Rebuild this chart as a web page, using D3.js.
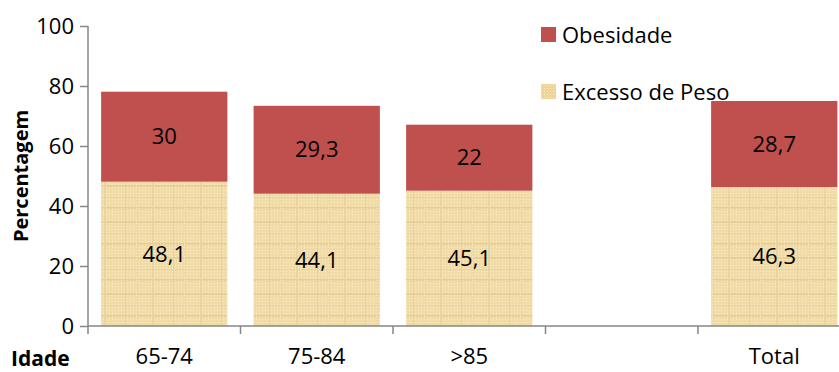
<!DOCTYPE html>
<html>
<head>
<meta charset="utf-8">
<script src="https://cdn.jsdelivr.net/npm/d3@7"></script>
<style>
  html, body { margin: 0; padding: 0; background: #fff; }
  svg { display: block; font-family: "Open Sans", sans-serif; }
</style>
</head>
<body>
<svg id="chart" width="839" height="372"></svg>
<script>
// Age groups (one empty slot separates the groups from the total)
const categories = ["65-74", "75-84", ">85", "", "Total"];
const excessoPeso = [48.1, 44.1, 45.1, null, 46.3];
const obesidade   = [30, 29.3, 22, null, 28.7];
const yTicks = [0, 20, 40, 60, 80, 100];
const seriesNames = ["Obesidade", "Excesso de Peso"];

const svg = d3.select("#chart");
const plotLeft = 88, plotTop = 26, plotH = 300, band = 152.5;
const fontSize = 22;

const x = d3.scaleBand()
  .domain(categories)
  .range([plotLeft, plotLeft + band * categories.length])
  .paddingInner(0.172)
  .paddingOuter(0.086);

const y = d3.scaleLinear().domain([0, 100]).range([plotTop + plotH, plotTop]);

// Papyrus-like texture for the "Excesso de Peso" segments
const defs = svg.append("defs");
const pat = defs.append("pattern")
  .attr("id", "papiro")
  .attr("patternUnits", "userSpaceOnUse")
  .attr("width", 48).attr("height", 36);
pat.append("rect").attr("width", 48).attr("height", 36).attr("fill", "#F1DBA6");
[[0, 5, 48, 2, "#E6CC92"], [0, 17, 48, 1, "#E9D29A"], [0, 27, 48, 2, "#E4C98E"],
 [8, 0, 2, 36, "#EAD39C"], [29, 0, 1, 36, "#E7CE96"], [40, 0, 2, 36, "#EDD7A2"]]
  .forEach(([rx, ry, w, h, c]) => pat.append("rect")
    .attr("x", rx).attr("y", ry).attr("width", w).attr("height", h)
    .attr("fill", c).attr("opacity", 0.8));
for (let i = 0; i < 48; i += 3) {
  for (let j = 0; j < 36; j += 3) {
    pat.append("rect").attr("x", i + 1).attr("y", j + 1)
      .attr("width", 1).attr("height", 1)
      .attr("fill", "#FBF0D6").attr("opacity", 0.75);
  }
}
const legPat = defs.append("pattern")
  .attr("id", "papiroLeg")
  .attr("patternUnits", "userSpaceOnUse")
  .attr("width", 3).attr("height", 3);
legPat.append("rect").attr("width", 3).attr("height", 3).attr("fill", "#EFD49A");
legPat.append("rect").attr("x", 1).attr("y", 1).attr("width", 1).attr("height", 1).attr("fill", "#FAEBC8");

const data = categories.map((c, i) => ({ c, a: excessoPeso[i], b: obesidade[i] }))
  .filter(d => d.a != null);

const g = svg.append("g");
// Lower segment: Excesso de Peso
g.selectAll("rect.peso").data(data).join("rect")
  .attr("class", "peso")
  .attr("x", d => x(d.c)).attr("width", x.bandwidth())
  .attr("y", d => y(d.a)).attr("height", d => y(0) - y(d.a))
  .attr("fill", "url(#papiro)");
// Upper segment: Obesidade
g.selectAll("rect.obes").data(data).join("rect")
  .attr("class", "obes")
  .attr("x", d => x(d.c)).attr("width", x.bandwidth())
  .attr("y", d => y(d.a + d.b)).attr("height", d => y(d.a) - y(d.a + d.b))
  .attr("fill", "#C0504D");

const fmt = v => String(v).replace(".", ",");
g.selectAll("text.lpeso").data(data).join("text")
  .attr("x", d => x(d.c) + x.bandwidth() / 2)
  .attr("y", d => y(d.a / 2))
  .attr("dy", "0.35em").attr("text-anchor", "middle")
  .attr("font-size", fontSize).attr("fill", "#000")
  .text(d => fmt(d.a));
g.selectAll("text.lobes").data(data).join("text")
  .attr("x", d => x(d.c) + x.bandwidth() / 2)
  .attr("y", d => y(d.a + d.b / 2))
  .attr("dy", "0.35em").attr("text-anchor", "middle")
  .attr("font-size", fontSize).attr("fill", "#000")
  .text(d => fmt(d.b));

// Y axis
const yAxis = svg.append("g")
  .attr("transform", `translate(${plotLeft},0)`)
  .call(d3.axisLeft(y).tickValues(yTicks).tickSize(8).tickPadding(6));
yAxis.select(".domain").attr("stroke", "#868686").attr("stroke-width", 1.5)
  .attr("d", `M0,${plotTop}V${plotTop + plotH}`);
yAxis.selectAll(".tick line").attr("stroke", "#868686").attr("stroke-width", 1.5);
yAxis.selectAll(".tick text").attr("font-size", fontSize).attr("fill", "#000")
  .attr("font-family", "'Open Sans', sans-serif");

// X axis (category boundaries as tick marks)
const xAxisG = svg.append("g");
xAxisG.append("line")
  .attr("x1", plotLeft).attr("x2", 839)
  .attr("y1", y(0)).attr("y2", y(0))
  .attr("stroke", "#868686").attr("stroke-width", 1.5);
const bounds = d3.range(categories.length).map(i => plotLeft + i * band);
xAxisG.selectAll("line.tk").data(bounds).join("line")
  .attr("class", "tk")
  .attr("x1", d => d).attr("x2", d => d)
  .attr("y1", y(0)).attr("y2", y(0) + 8)
  .attr("stroke", "#868686").attr("stroke-width", 1.5);
xAxisG.selectAll("text.cat").data(categories.filter(c => c)).join("text")
  .attr("class", "cat")
  .attr("x", d => x(d) + x.bandwidth() / 2)
  .attr("y", 364)
  .attr("text-anchor", "middle")
  .attr("font-size", fontSize).attr("fill", "#000")
  .text(d => d);

// Axis titles
svg.append("text")
  .attr("x", 11).attr("y", 366)
  .attr("font-size", 21).attr("font-weight", "bold").attr("fill", "#000")
  .text("Idade");
svg.append("text")
  .attr("transform", `translate(28,${y(50)}) rotate(-90)`)
  .attr("text-anchor", "middle")
  .attr("font-size", 20).attr("font-weight", "bold").attr("fill", "#000")
  .text("Percentagem");

// Legend
const legend = svg.append("g");
const legItems = [
  { name: seriesNames[0], fill: "#C0504D", yPos: 27 },
  { name: seriesNames[1], fill: "url(#papiroLeg)", yPos: 84 }
];
legItems.forEach(it => {
  legend.append("rect").attr("x", 541).attr("y", it.yPos)
    .attr("width", 15).attr("height", 15).attr("fill", it.fill);
  legend.append("text").attr("x", 562).attr("y", it.yPos + 8)
    .attr("dy", "0.35em").attr("font-size", fontSize).attr("fill", "#000")
    .text(it.name);
});
</script>
</body>
</html>
